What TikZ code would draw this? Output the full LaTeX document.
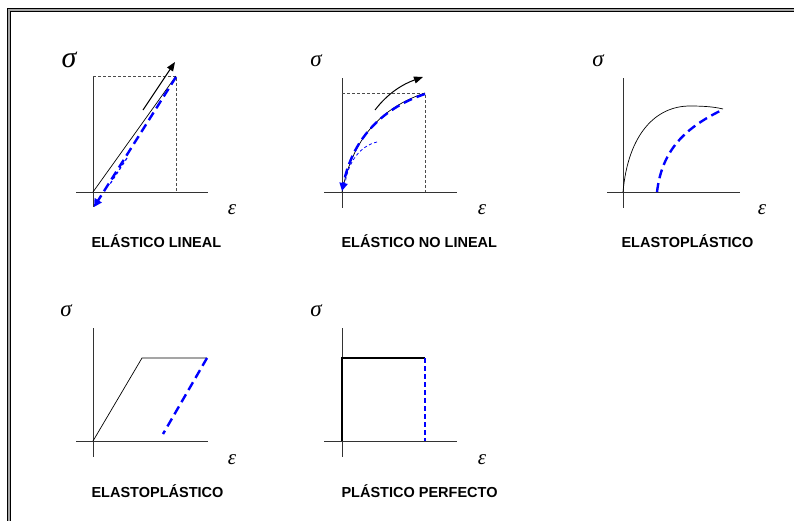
\documentclass[tikz,border=0pt]{standalone}
\usepackage{fontspec}
\newfontfamily\titlefont{Liberation Sans}
\newfontfamily\greekfont{Liberation Serif}
\usetikzlibrary{positioning, arrows.meta}

\begin{document}
\begin{tikzpicture}[
    x=1pt, y=-1pt,
    axis/.style={
        draw=black!80,
        line width=0.8pt
    },
    curve/.style={
        draw=black,
        line width=0.7pt
    },
    unload/.style={
        draw=blue,
        line width=2.4pt,
        dash pattern=on 9pt off 5pt
    },
    thinunload/.style={
        draw=blue,
        line width=0.8pt,
        dash pattern=on 3pt off 2.5pt
    },
    guide/.style={
        draw=black!70,
        line width=0.7pt,
        dash pattern=on 3pt off 2pt
    },
    arrow/.style={
        -{Triangle[length=9pt, width=7pt]},
        line width=1pt
    },
    title/.style={
        anchor=west,
        font=\titlefont\bfseries\fontsize{14.5}{16}\selectfont
    },
    sym/.style={
        font=\greekfont\itshape\fontsize{23}{25}\selectfont
    },
    epsl/.style={
        font=\greekfont\itshape\fontsize{21}{23}\selectfont
    }
]

    \useasboundingbox (0,0) rectangle (794,520);
    \clip (0,0) rectangle (794,520);

    % Frame
    \draw[line width=1.1pt, double=black!35, double distance=2pt] (9,530) -- (9,10) -- (800,10);

    % -- Elastico lineal --
    \coordinate (o1) at (93,192);
    \draw[axis] (76,192) -- (208,192);
    \draw[axis] (93,77) -- (93,207);
    \draw[guide] (93,76) -- (176,76) -- (176,192);
    \draw[curve] (o1) -- (176,76);
    \draw[arrow] (143,110) -- (175,62);
    \draw[unload, -{Triangle[length=8pt, width=8pt]}] (176,77) -- (94,207);
    \draw[thinunload, line width=1.2pt] (127,158) -- (110,184);
    \node[sym, font=\greekfont\itshape\fontsize{30}{32}\selectfont] (s1) at (69,60) {σ};
    \node[epsl] (e1) at (232,210) {ε};
    \node[title] (t1) at (88,241) {ELÁSTICO LINEAL};

    % -- Elastico no lineal --
    \coordinate (o2) at (342,192);
    \draw[axis] (324,192) -- (457,192);
    \draw[axis] (342,78) -- (342,208);
    \draw[guide] (342,93) -- (425,93) -- (425,192);
    \draw[curve] (o2) .. controls (352,140) and (380,108) .. (425,93);
    \draw[unload, -{Triangle[length=8pt, width=8pt]}] (425,94) .. controls (380,109) and (352,141) .. (342,191);
    \draw[thinunload] (377,142) .. controls (360,146) and (348,162) .. (345,184);
    \draw[arrow] (375,110) .. controls (388,93) and (403,84) .. (423,77);
    \node[sym] (s2) at (316,61) {σ};
    \node[epsl] (e2) at (482,210) {ε};
    \node[title] (t2) at (338,241) {ELÁSTICO NO LINEAL};

    % -- Elastoplastico (curva) --
    \coordinate (o3) at (623,192);
    \draw[axis] (607,192) -- (740,192);
    \draw[axis] (623,78) -- (623,208);
    \draw[curve] (o3) .. controls (628,135) and (655,106) .. (690,106) .. controls (705,106) and (715,107) .. (723,109);
    \draw[unload] (657,192) .. controls (662,150) and (685,128) .. (722,110);
    \node[sym] (s3) at (598,61) {σ};
    \node[epsl] (e3) at (762,210) {ε};
    \node[title] (t3) at (618,241) {ELASTOPLÁSTICO};

    % -- Elastoplastico (bilineal) --
    \coordinate (o4) at (93,441);
    \draw[axis] (76,441) -- (208,441);
    \draw[axis] (93,328) -- (93,457);
    \draw[curve] (o4) -- (142,358) -- (207,358);
    \draw[unload] (207,358) -- (163,434);
    \node[sym] (s4) at (66,311) {σ};
    \node[epsl] (e4) at (232,460) {ε};
    \node[title] (t4) at (88,491) {ELASTOPLÁSTICO};

    % -- Plastico perfecto --
    \coordinate (o5) at (342,441);
    \draw[axis] (324,441) -- (457,441);
    \draw[axis] (342,328) -- (342,457);
    \draw[line width=2.4pt] (o5) -- (342,358) -- (425,358);
    \draw[blue, line width=1.2pt, dash pattern=on 5pt off 3pt] (425,358) -- (425,441);
    \node[sym] (s5) at (316,311) {σ};
    \node[epsl] (e5) at (482,460) {ε};
    \node[title] (t5) at (338,491) {PLÁSTICO PERFECTO};

\end{tikzpicture}
\end{document}
